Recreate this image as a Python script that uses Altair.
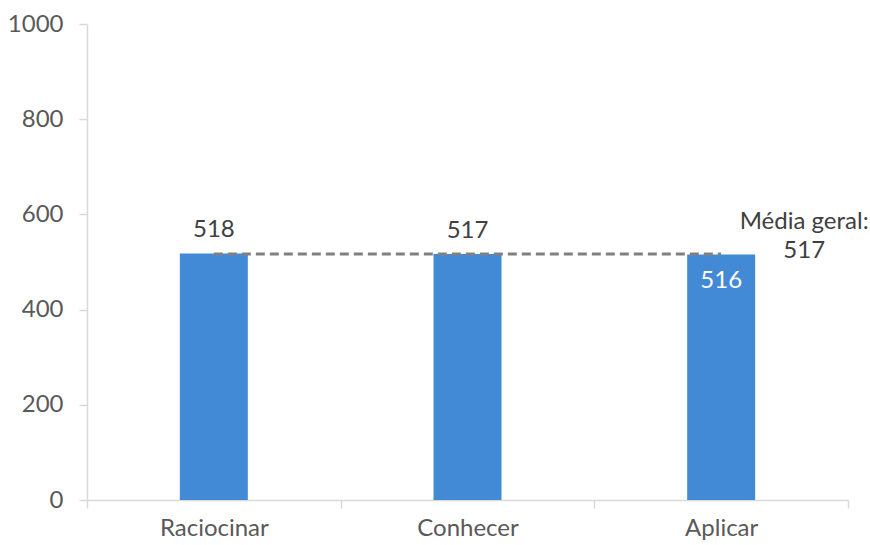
import altair as alt
import pandas as pd

# Scores per cognitive domain
categories = ["Raciocinar", "Conhecer", "Aplicar"]
scores = [518, 517, 516]
overall_mean = 517
mean_label = "Média geral:\n517"

df = pd.DataFrame({"dominio": categories, "pontuacao": scores})
mean_df = pd.DataFrame({"dominio": [categories[0], categories[-1]],
                        "pontuacao": [overall_mean, overall_mean]})
note_df = pd.DataFrame({"dominio": [categories[-1]], "pontuacao": [overall_mean],
                        "texto": [mean_label]})

FONT = "Lato"
AXIS_GREY = "#D9D9D9"
LABEL_GREY = "#595959"
BAR_BLUE = "#438AD6"

x_enc = alt.X("dominio:N", sort=categories, title=None,
              scale=alt.Scale(paddingInner=0, paddingOuter=0),
              axis=alt.Axis(labelAngle=0, tickBand="extent", domainColor=AXIS_GREY,
                            tickColor=AXIS_GREY, tickSize=8, labelFontSize=24,
                            labelColor=LABEL_GREY, labelFont=FONT, labelPadding=8,
                            domainWidth=1.5, tickWidth=1.5))
y_enc = alt.Y("pontuacao:Q", title=None,
              scale=alt.Scale(domain=[0, 1000], nice=False),
              axis=alt.Axis(values=[0, 200, 400, 600, 800, 1000], grid=False, format="d",
                            domainColor=AXIS_GREY, tickColor=AXIS_GREY, tickSize=8,
                            labelFontSize=24, labelColor=LABEL_GREY, labelFont=FONT,
                            labelPadding=16, domainWidth=1.5, tickWidth=1.5))

base = alt.Chart(df)

bars = base.mark_bar(color=BAR_BLUE, width=alt.RelativeBandSize(0.268)).encode(
    x=x_enc, y=y_enc)

labels_above = base.transform_filter(
    alt.FieldOneOfPredicate(field="dominio", oneOf=categories[:2])
).mark_text(font=FONT, fontSize=24, color="#404040", dy=-23, baseline="middle").encode(
    x=alt.X("dominio:N", sort=categories), y="pontuacao:Q", text="pontuacao:Q")

label_inside = base.transform_filter(
    alt.FieldEqualPredicate(field="dominio", equal=categories[-1])
).mark_text(font=FONT, fontSize=24, color="white", dy=27, baseline="middle").encode(
    x=alt.X("dominio:N", sort=categories), y="pontuacao:Q", text="pontuacao:Q")

mean_line = alt.Chart(mean_df).mark_line(
    color="#808080", strokeWidth=3, strokeDash=[9, 5]
).encode(x=alt.X("dominio:N", sort=categories), y="pontuacao:Q")

mean_note = alt.Chart(note_df).mark_text(
    font=FONT, fontSize=24, color="#404040", align="center", baseline="middle",
    lineBreak="\n", lineHeight=29, dx=83, dy=-32
).encode(x=alt.X("dominio:N", sort=categories), y="pontuacao:Q", text="texto:N")

chart = alt.layer(bars, mean_line, labels_above, label_inside, mean_note).properties(
    width=761, height=476,
    autosize=alt.AutoSizeParams(type="none"),
    padding={"left": 87, "top": 24, "right": 22, "bottom": 45},
    background="white",
).configure_view(stroke=None)

chart.save("out.html", embed_options={"renderer": "svg", "actions": False})
